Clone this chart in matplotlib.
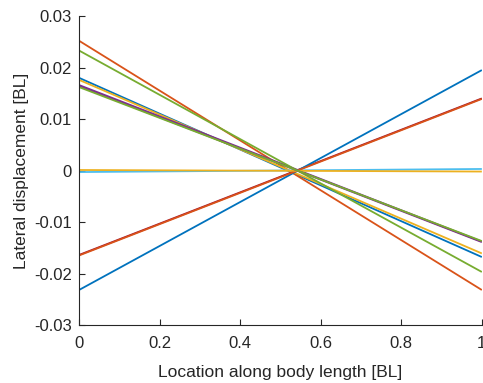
import matplotlib
matplotlib.use("Agg")
import matplotlib.pyplot as plt

plt.rcParams['font.family'] = ['Liberation Sans', 'DejaVu Sans']

# Lateral displacement at head (x=0) and tail (x=1) for each trial
x_ends = [0.0, 1.0]
head_disp = [0.0180, 0.0252, 0.0176, 0.0166, 0.0233, -0.0003,
             -0.0164, -0.0232, -0.0165, 0.0001, 0.0164, 0.0162]
tail_disp = [-0.0168, -0.0232, -0.0161, -0.0138, -0.0197, 0.0003,
             0.0140, 0.0195, 0.0139, -0.0002, -0.0139, -0.0137]

colors = ['#0072BD', '#D95319', '#EDB120', '#7E2F8E', '#77AC30',
          '#4DBEEE', '#A2142F']

xticks = [0, 0.2, 0.4, 0.6, 0.8, 1]
xtick_labels = ['0', '0.2', '0.4', '0.6', '0.8', '1']
yticks = [-0.03, -0.02, -0.01, 0, 0.01, 0.02, 0.03]
ytick_labels = ['-0.03', '-0.02', '-0.01', '0', '0.01', '0.02', '0.03']

fig = plt.figure(figsize=(4.83, 3.83), dpi=100)
ax = fig.add_axes([0.1636, 0.1514, 0.834, 0.8068])

for i, (h, t) in enumerate(zip(head_disp, tail_disp)):
    ax.plot(x_ends, [h, t], color=colors[i % len(colors)], linewidth=1.3,
            solid_capstyle='butt')

ax.set_xlim(0, 1)
ax.set_ylim(-0.03, 0.03)
ax.set_xticks(xticks)
ax.set_xticklabels(xtick_labels)
ax.set_yticks(yticks)
ax.set_yticklabels(ytick_labels)

axis_color = '#262626'
for side in ['top', 'right']:
    ax.spines[side].set_visible(False)
for side in ['left', 'bottom']:
    ax.spines[side].set_color(axis_color)
    ax.spines[side].set_linewidth(0.8)
ax.tick_params(direction='in', length=4, width=0.8, colors=axis_color,
               labelsize=12, labelcolor=axis_color)
ax.tick_params(axis='y', pad=5)
ax.tick_params(axis='x', pad=8)
ax.set_xlabel('Location along body length [BL]', fontsize=12.5,
              color=axis_color, labelpad=10)
ax.set_ylabel('Lateral displacement [BL]', fontsize=12.5,
              color=axis_color, labelpad=4)

fig.savefig('out.png', dpi=100)
